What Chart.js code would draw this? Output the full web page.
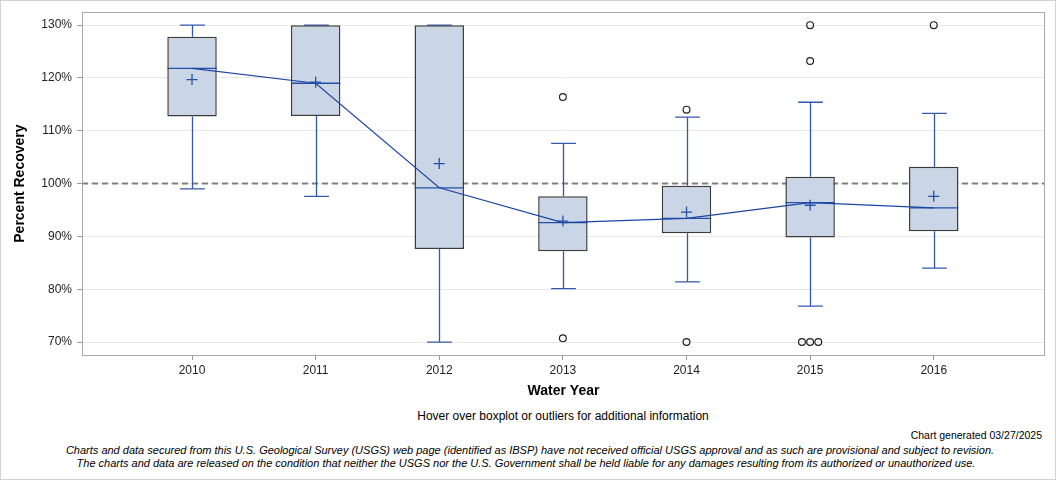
<!DOCTYPE html>
<html>
<head>
<meta charset="utf-8">
<script src="https://cdn.jsdelivr.net/npm/chart.js@4"></script>
<style>
  html, body { margin: 0; padding: 0; background: #fff; }
  #wrap { position: relative; width: 1056px; height: 480px; overflow: hidden; font-family: "Liberation Sans", Arial, sans-serif; }
  #frame { position: absolute; left: 0; top: 0; width: 1054px; height: 478px; border: 1px solid #d0d0d0; pointer-events: none; }
  #cbox { position: absolute; left: 0; top: 0; width: 1056px; height: 400px; }
  .txt { position: absolute; white-space: nowrap; color: #000; }
</style>
</head>
<body>
<div id="wrap">
  <div id="cbox"><canvas id="c"></canvas></div>
  <div class="txt" style="left:563px; top:409px; transform:translateX(-50%); font-size:12px;">Hover over boxplot or outliers for additional information</div>
  <div class="txt" style="right:14px; top:429px; font-size:10.5px;">Chart generated 03/27/2025</div>
  <div class="txt" style="left:530px; top:444px; transform:translateX(-50%); font-size:11px; font-style:italic;">Charts and data secured from this U.S. Geological Survey (USGS) web page (identified as IBSP) have not received official USGS approval and as such are provisional and subject to revision.</div>
  <div class="txt" style="left:526px; top:457px; transform:translateX(-50%); font-size:11px; font-style:italic;">The charts and data are released on the condition that neither the USGS nor the U.S. Government shall be held liable for any damages resulting from its authorized or unauthorized use.</div>
  <div id="frame"></div>
</div>
<script>
const years       = ['2010', '2011', '2012', '2013', '2014', '2015', '2016'];
const whiskerLow  = [99.0, 97.6, 70.0, 80.1, 81.4, 76.8, 84.0];
const q1          = [112.7, 112.8, 87.6, 87.2, 90.6, 89.8, 91.0];
const median      = [121.8, 119.0, 99.2, 92.6, 93.4, 96.4, 95.4];
const q3          = [127.8, 130.0, 130.0, 97.6, 99.6, 101.3, 103.2];
const whiskerHigh = [130.0, 130.0, 130.0, 107.6, 112.6, 115.4, 113.3];
const means       = [119.7, 119.2, 103.8, 92.9, 94.6, 95.9, 97.6];
const outlierYear = [3, 3, 4, 4, 5, 5, 5, 5, 5, 6];
const outlierVal  = [116.4, 70.7, 114.0, 70.0, 130.0, 123.2, 70.0, 70.0, 70.0, 130.0];
const yTicks      = [70, 80, 90, 100, 110, 120, 130];
const referenceValue = 100;

// spread duplicated outliers (same year, same value) side by side
function outlierPoints() {
  const groups = {};
  outlierYear.forEach((yr, i) => {
    const k = yr + '|' + outlierVal[i];
    (groups[k] = groups[k] || []).push(i);
  });
  const pts = [];
  Object.values(groups).forEach(idx => {
    const n = idx.length;
    idx.forEach((i, j) => {
      pts.push({ x: outlierYear[i] + (j - (n - 1) / 2) * 0.066, y: outlierVal[i] });
    });
  });
  return pts;
}

const BLUE = '#2450a8';
const WHISK = '#3458ad';
const boxPlugin = {
  id: 'boxParts',
  beforeDatasetsDraw(chart) {
    const { ctx, chartArea: a, scales: { x, y } } = chart;
    ctx.save();
    // reference line
    const ry = y.getPixelForValue(referenceValue);
    ctx.strokeStyle = '#808080';
    ctx.lineWidth = 2;
    ctx.setLineDash([6, 4]);
    ctx.beginPath(); ctx.moveTo(a.left, ry); ctx.lineTo(a.right, ry); ctx.stroke();
    ctx.setLineDash([]);
    // whiskers
    ctx.strokeStyle = WHISK;
    ctx.lineWidth = 1.3;
    const capHalf = (x.getPixelForValue(1) - x.getPixelForValue(0)) * 0.1;
    years.forEach((_, i) => {
      const px = Math.round(x.getPixelForValue(i)) + 0.5;
      const yl = y.getPixelForValue(whiskerLow[i]);
      const yh = y.getPixelForValue(whiskerHigh[i]);
      const y1 = y.getPixelForValue(q1[i]);
      const y3 = y.getPixelForValue(q3[i]);
      ctx.beginPath();
      ctx.moveTo(px, y3); ctx.lineTo(px, yh);
      ctx.moveTo(px, y1); ctx.lineTo(px, yl);
      ctx.moveTo(px - capHalf, yh); ctx.lineTo(px + capHalf, yh);
      ctx.moveTo(px - capHalf, yl); ctx.lineTo(px + capHalf, yl);
      ctx.stroke();
    });
    ctx.restore();
  },
  afterDatasetDraw(chart, args) {
    if (args.index !== 1) return;
    const { ctx, scales: { x, y } } = chart;
    ctx.save();
    ctx.strokeStyle = BLUE;
    ctx.lineWidth = 1.3;
    const half = (x.getPixelForValue(1) - x.getPixelForValue(0)) * 0.2;
    years.forEach((_, i) => {
      const px = x.getPixelForValue(i);
      const my = y.getPixelForValue(median[i]);
      ctx.beginPath(); ctx.moveTo(px - half, my); ctx.lineTo(px + half, my); ctx.stroke();
    });
    ctx.restore();
  },
  afterDraw(chart) {
    const { ctx, chartArea: a } = chart;
    ctx.save();
    ctx.strokeStyle = '#a8a8a8';
    ctx.lineWidth = 1;
    ctx.strokeRect(Math.round(a.left) + 0.5, Math.round(a.top) + 0.5, Math.round(a.right - a.left) - 1, Math.round(a.bottom - a.top));
    ctx.restore();
  }
};

new Chart(document.getElementById('c'), {
  data: {
    datasets: [
      {
        type: 'line',
        data: median.map((v, i) => ({ x: i, y: v })),
        borderColor: '#1c45a3',
        borderWidth: 1.2,
        pointRadius: 0,
        order: 1
      },
      {
        type: 'bar',
        data: years.map((_, i) => ({ x: i, y: [q1[i], q3[i]] })),
        backgroundColor: '#cad5e5',
        borderColor: '#3c3c3c',
        borderWidth: 1.5,
        borderSkipped: false,
        barPercentage: 0.4,
        categoryPercentage: 1,
        order: 4
      },
      {
        type: 'scatter',
        data: means.map((v, i) => ({ x: i, y: v })),
        pointStyle: 'cross',
        pointRadius: 5.5,
        borderColor: BLUE,
        borderWidth: 1.3,
        backgroundColor: BLUE,
        order: 2
      },
      {
        type: 'scatter',
        data: outlierPoints(),
        pointStyle: 'circle',
        pointRadius: 3.4,
        borderColor: '#222',
        borderWidth: 1.2,
        backgroundColor: 'rgba(0,0,0,0)',
        order: 3
      }
    ]
  },
  options: {
    responsive: true,
    maintainAspectRatio: false,
    animation: false,
    events: [],
    layout: { padding: { left: 0, right: 11, top: 11, bottom: 0 } },
    plugins: { legend: { display: false }, tooltip: { enabled: false } },
    scales: {
      x: {
        type: 'linear',
        min: -0.89,
        max: 6.9,
        offset: false,
        afterBuildTicks: s => { s.ticks = years.map((_, i) => ({ value: i })); },
        afterFit: s => { s.height = 45; },
        ticks: {
          callback: v => years[v],
          color: '#222',
          font: { family: '"Liberation Sans", Arial, sans-serif', size: 12 },
          padding: 3,
          maxRotation: 0,
          autoSkip: false
        },
        grid: { display: true, offset: false, drawOnChartArea: false, tickLength: 5, tickColor: '#999' },
        border: { display: false },
        title: {
          display: true,
          text: 'Water Year',
          color: '#000',
          font: { family: '"Liberation Sans", Arial, sans-serif', size: 14, weight: 'bold' },
          padding: { top: 0, bottom: 0 }
        }
      },
      y: {
        type: 'linear',
        min: 67.55,
        max: 132.45,
        afterBuildTicks: s => { s.ticks = yTicks.map(v => ({ value: v })); },
        afterFit: s => { s.width = 82; },
        ticks: {
          callback: v => v + '%',
          color: '#222',
          font: { family: '"Liberation Sans", Arial, sans-serif', size: 12 },
          padding: 5
        },
        grid: { color: '#e8e8e8', lineWidth: 1, tickLength: 5, tickColor: '#999' },
        border: { display: false },
        title: {
          display: true,
          text: 'Percent Recovery',
          color: '#000',
          font: { family: '"Liberation Sans", Arial, sans-serif', size: 14, weight: 'bold' },
          padding: { top: 12, bottom: 0 }
        }
      }
    }
  },
  plugins: [boxPlugin]
});
</script>
</body>
</html>
